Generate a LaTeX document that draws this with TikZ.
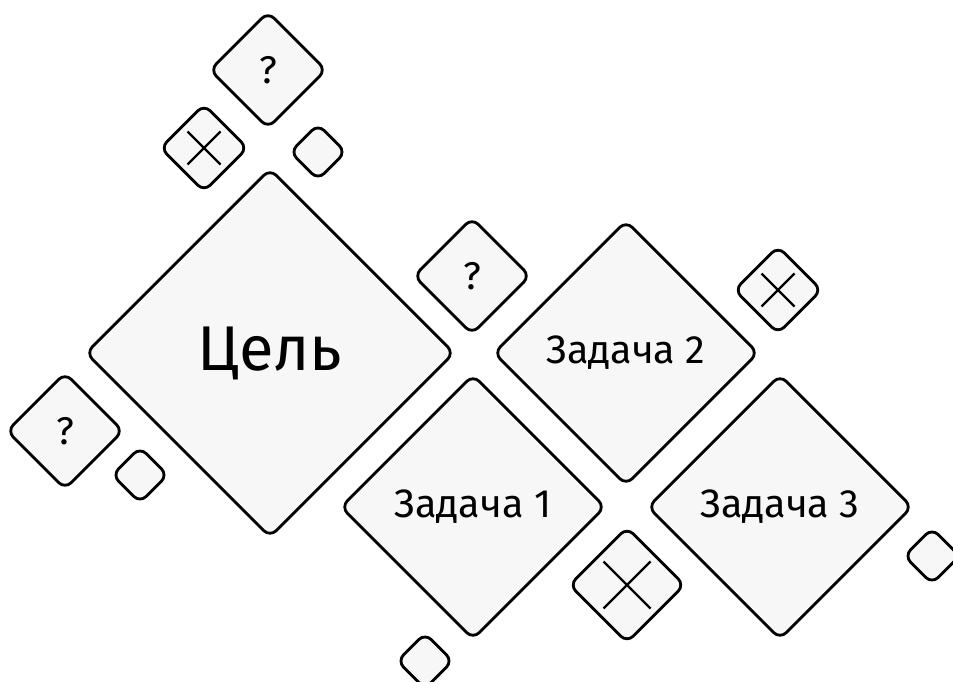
\documentclass[tikz,border=0pt]{standalone}
\usepackage{fontspec}
\setmainfont{Fira Sans}
\usepackage{tikz}
\usetikzlibrary{shapes.geometric, calc}
\definecolor{tilegray}{RGB}{247, 247, 247}

\tikzset{
  tile/.style={diamond, aspect=1, draw=black, fill=tilegray, line width=1.6pt,
    rounded corners=5pt, inner sep=0pt},
  goaltile/.style={tile, minimum size=7.38cm, font=\fontsize{36}{40}\selectfont},
  tasktile/.style={tile, minimum size=5.3cm, font=\fontsize{22.5}{26}\selectfont},
  asktile/.style={tile, minimum size=2.34cm, font=\fontsize{22}{24}\selectfont},
  blanktile/.style={tile, minimum size=1.13cm},
  crosstile/.style={tile, minimum size=#1},
  crossline/.style={line width=1.3pt, line cap=butt},
}

\begin{document}
\begin{tikzpicture}[x=0.02cm, y=-0.02cm]
  \useasboundingbox (0, 0) rectangle (953, 682);

  % Main tiles
  \node[goaltile] (goal) at (270, 353) {Цель};
  \node[tasktile] (task2) at (626, 353) {Задача 2};
  \node[tasktile] (task1) at (473, 507) {Задача 1};
  \node[tasktile] (task3) at (780, 507) {Задача 3};

  % Question tiles
  \node[asktile] (askTop) at (268, 70) {?};
  \node[asktile] (askMid) at (472, 276) {?};
  \node[asktile] (askLeft) at (65, 431) {?};

  % Cross tiles
  \node[crosstile=1.76cm] (crossTop) at (204, 148) {};
  \node[crosstile=1.76cm] (crossRight) at (778, 290) {};
  \node[crosstile=2.32cm] (crossBottom) at (627, 585) {};
  \foreach \t/\a in {crossTop/16.5, crossRight/16.5, crossBottom/23.5}
    \draw[crossline] ($(\t.center)+(-\a,-\a)$) -- ($(\t.center)+(\a,\a)$)
                     ($(\t.center)+(-\a,\a)$) -- ($(\t.center)+(\a,-\a)$);

  % Blank tiles
  \node[blanktile] (blankTop) at (318, 152) {};
  \node[blanktile] (blankLeft) at (140, 475) {};
  \node[blanktile] (blankRight) at (932, 556) {};
  \node[blanktile] (blankBottom) at (425, 661) {};
\end{tikzpicture}
\end{document}
